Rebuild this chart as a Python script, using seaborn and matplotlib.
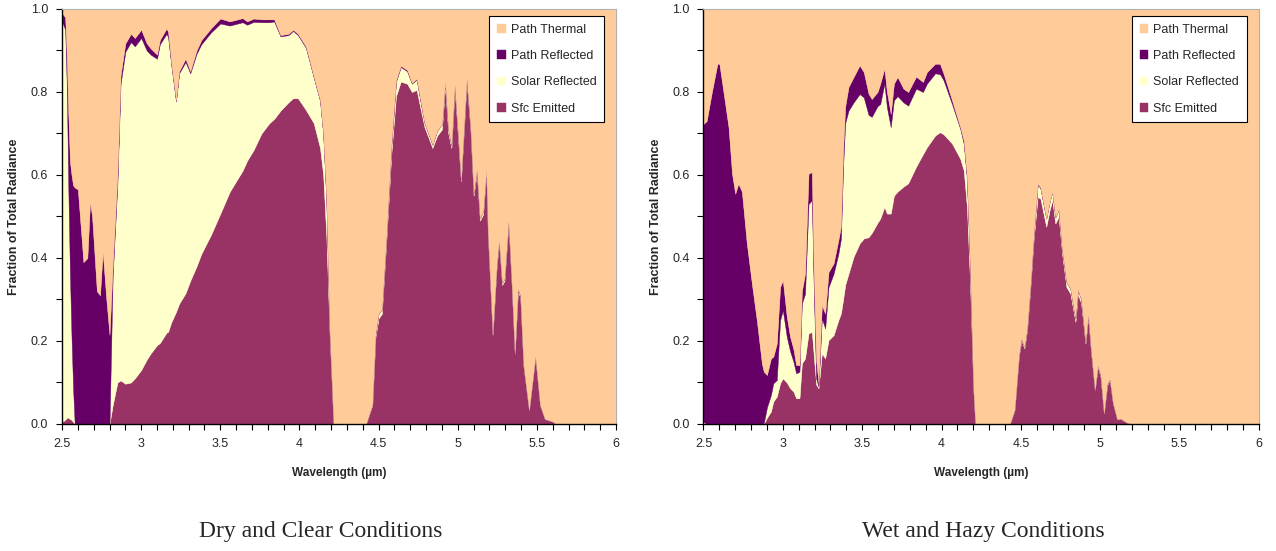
import matplotlib
matplotlib.use("Agg")
import matplotlib.pyplot as plt
import seaborn as sns
from matplotlib.ticker import MultipleLocator, FixedLocator

sns.set_theme(style="ticks")
plt.rcParams['font.family'] = ['Liberation Sans', 'DejaVu Sans']

# series names and colours (legend lists them top-down)
series_names = ['Sfc Emitted', 'Solar Reflected', 'Path Reflected', 'Path Thermal']
series_colors = ['#993366', '#FFFFCC', '#660066', '#FFCC99']

x_ticks = [2.5, 3, 3.5, 4, 4.5, 5, 5.5, 6]
x_tick_labels = ['2.5', '3', '3.5', '4', '4.5', '5', '5.5', '6']
y_ticks = [0.0, 0.2, 0.4, 0.6, 0.8, 1.0]
y_tick_labels = ['0.0', '0.2', '0.4', '0.6', '0.8', '1.0']

# ---- Dry and Clear Conditions ----
wl_dry = [2.50, 2.52, 2.53, 2.54, 2.55, 2.56, 2.57, 2.58, 2.60, 2.635,
          2.66, 2.677, 2.69, 2.72, 2.74, 2.757, 2.78, 2.80, 2.82, 2.85,
          2.87, 2.90, 2.935, 2.96, 3.00, 3.035, 3.06, 3.10, 3.118, 3.16,
          3.17, 3.19, 3.22, 3.24, 3.28, 3.31, 3.35, 3.38, 3.44, 3.50,
          3.56, 3.64, 3.67, 3.71, 3.76, 3.81, 3.84, 3.88, 3.93, 3.96,
          3.99, 4.04, 4.09, 4.13, 4.15, 4.17, 4.19, 4.215, 4.42, 4.46,
          4.48, 4.50, 4.52, 4.55, 4.58, 4.61, 4.64, 4.68, 4.71, 4.74,
          4.77, 4.79, 4.84, 4.87, 4.90, 4.92, 4.94, 4.96, 4.98, 5.00,
          5.02, 5.056, 5.08, 5.10, 5.12, 5.14, 5.16, 5.18, 5.19, 5.22,
          5.245, 5.26, 5.28, 5.295, 5.32, 5.34, 5.36, 5.38, 5.395, 5.415,
          5.45, 5.49, 5.52, 5.55, 5.60, 5.62, 6.00]
sfc_dry = [0.005, 0.010, 0.015, 0.015, 0.012, 0.010, 0.005, 0, 0, 0,
           0, 0, 0, 0, 0, 0, 0, 0, 0.045, 0.10,
           0.105, 0.097, 0.10, 0.11, 0.13, 0.155, 0.17, 0.19, 0.195, 0.22,
           0.222, 0.245, 0.27, 0.29, 0.315, 0.345, 0.38, 0.41, 0.455, 0.507,
           0.56, 0.61, 0.635, 0.66, 0.70, 0.725, 0.735, 0.755, 0.775, 0.785,
           0.785, 0.757, 0.725, 0.665, 0.60, 0.45, 0.22, 0, 0, 0.045,
           0.21, 0.255, 0.265, 0.45, 0.65, 0.79, 0.825, 0.82, 0.80, 0.805,
           0.75, 0.715, 0.665, 0.695, 0.71, 0.815, 0.70, 0.665, 0.81, 0.70,
           0.585, 0.825, 0.71, 0.55, 0.607, 0.49, 0.505, 0.608, 0.46, 0.215,
           0.375, 0.44, 0.335, 0.345, 0.485, 0.34, 0.17, 0.32, 0.305, 0.14,
           0.034, 0.162, 0.045, 0.012, 0.006, 0, 0]
solar_dry = [0.965, 0.94, 0.80, 0.55, 0.35, 0.20, 0.08, 0, 0, 0,
             0, 0, 0, 0, 0, 0, 0, 0, 0.31, 0.48,
             0.715, 0.80, 0.82, 0.80, 0.80, 0.745, 0.72, 0.69, 0.72, 0.72,
             0.71, 0.62, 0.507, 0.555, 0.557, 0.50, 0.512, 0.505, 0.488, 0.458,
             0.40, 0.358, 0.327, 0.309, 0.268, 0.243, 0.235, 0.179, 0.162, 0.162,
             0.152, 0.15, 0.11, 0.113, 0.098, 0.088, 0.01, 0, 0, 0.002,
             0.008, 0.012, 0.01, 0.012, 0.02, 0.035, 0.035, 0.03, 0.02, 0.025,
             0.015, 0.01, 0.008, 0.012, 0.012, 0.01, 0.01, 0.006, 0.008, 0.008,
             0.005, 0.008, 0.006, 0.006, 0.006, 0.005, 0.008, 0.005, 0.004, 0.003,
             0.005, 0.004, 0.005, 0.006, 0.005, 0.003, 0.002, 0.006, 0.005, 0.002,
             0, 0.001, 0, 0, 0, 0, 0]
pathref_dry = [0.02, 0.03, 0.07, 0.18, 0.27, 0.39, 0.49, 0.57, 0.565, 0.39,
               0.40, 0.535, 0.50, 0.32, 0.31, 0.415, 0.30, 0.215, 0.025, 0.02,
               0.02, 0.02, 0.02, 0.02, 0.02, 0.017, 0.015, 0.01, 0.01, 0.013,
               0.013, 0.005, 0.003, 0.005, 0.008, 0.005, 0.008, 0.01, 0.01, 0.012,
               0.01, 0.01, 0.008, 0.008, 0.007, 0.007, 0.005, 0.003, 0.003, 0.003,
               0.003, 0.003, 0.002, 0.002, 0.002, 0.002, 0, 0, 0, 0,
               0, 0, 0, 0, 0.002, 0.003, 0.003, 0.003, 0.002, 0.002,
               0.002, 0, 0, 0, 0, 0, 0, 0, 0, 0,
               0, 0, 0, 0, 0, 0, 0, 0, 0, 0,
               0, 0, 0, 0, 0, 0, 0, 0, 0, 0,
               0, 0, 0, 0, 0, 0, 0]
paththerm_dry = [0.01, 0.02, 0.115, 0.255, 0.368, 0.40, 0.425, 0.43, 0.435, 0.61,
                 0.60, 0.465, 0.50, 0.68, 0.69, 0.585, 0.70, 0.785, 0.62, 0.40,
                 0.16, 0.083, 0.06, 0.07, 0.05, 0.083, 0.095, 0.11, 0.075, 0.047,
                 0.055, 0.13, 0.22, 0.15, 0.12, 0.15, 0.10, 0.075, 0.047, 0.023,
                 0.03, 0.022, 0.03, 0.023, 0.025, 0.025, 0.025, 0.063, 0.06, 0.05,
                 0.06, 0.09, 0.163, 0.22, 0.30, 0.46, 0.77, 1.0, 1.0, 0.953,
                 0.782, 0.733, 0.725, 0.538, 0.328, 0.172, 0.137, 0.147, 0.178, 0.168,
                 0.233, 0.275, 0.327, 0.293, 0.278, 0.175, 0.29, 0.329, 0.182, 0.292,
                 0.41, 0.167, 0.284, 0.444, 0.387, 0.505, 0.487, 0.387, 0.536, 0.782,
                 0.62, 0.556, 0.66, 0.649, 0.51, 0.657, 0.828, 0.674, 0.69, 0.858,
                 0.966, 0.837, 0.955, 0.988, 0.994, 1.0, 1.0]

# ---- Wet and Hazy Conditions ----
wl_wet = [2.50, 2.52, 2.553, 2.588, 2.60, 2.626, 2.658, 2.68, 2.70, 2.72,
          2.742, 2.773, 2.805, 2.836, 2.868, 2.88, 2.90, 2.925, 2.94, 2.962,
          2.983, 3.00, 3.025, 3.046, 3.067, 3.084, 3.105, 3.12, 3.14, 3.162,
          3.183, 3.194, 3.21, 3.225, 3.246, 3.267, 3.288, 3.32, 3.35, 3.366,
          3.38, 3.393, 3.414, 3.446, 3.484, 3.51, 3.54, 3.56, 3.597, 3.614,
          3.64, 3.656, 3.68, 3.70, 3.723, 3.76, 3.79, 3.84, 3.883, 3.908,
          3.96, 3.99, 4.013, 4.066, 4.118, 4.14, 4.16, 4.18, 4.20, 4.213,
          4.43, 4.46, 4.487, 4.503, 4.522, 4.539, 4.56, 4.58, 4.606, 4.623,
          4.66, 4.681, 4.698, 4.717, 4.738, 4.76, 4.787, 4.812, 4.844, 4.859,
          4.88, 4.907, 4.924, 4.943, 4.966, 4.985, 5.002, 5.023, 5.044, 5.06,
          5.08, 5.107, 5.128, 5.17, 5.20, 6.00]
sfc_wet = [0, 0, 0, 0, 0, 0, 0, 0, 0, 0,
           0, 0, 0, 0, 0, 0, 0.015, 0.03, 0.054, 0.066,
           0.098, 0.11, 0.10, 0.086, 0.078, 0.062, 0.062, 0.146, 0.158, 0.218,
           0.222, 0.17, 0.095, 0.086, 0.17, 0.158, 0.202, 0.214, 0.25, 0.266,
           0.30, 0.335, 0.362, 0.403, 0.435, 0.447, 0.45, 0.46, 0.485, 0.495,
           0.523, 0.507, 0.507, 0.55, 0.56, 0.572, 0.58, 0.62, 0.65, 0.667,
           0.695, 0.703, 0.698, 0.676, 0.639, 0.611, 0.523, 0.338, 0.09, 0,
           0, 0.034, 0.162, 0.202, 0.182, 0.226, 0.33, 0.443, 0.547, 0.543,
           0.475, 0.515, 0.539, 0.483, 0.499, 0.41, 0.33, 0.314, 0.246, 0.314,
           0.29, 0.194, 0.258, 0.17, 0.082, 0.138, 0.114, 0.026, 0.094, 0.106,
           0.05, 0.011, 0.013, 0.003, 0, 0]
solar_wet = [0.005, 0, 0, 0, 0, 0, 0, 0, 0, 0,
             0, 0, 0, 0, 0, 0.002, 0.025, 0.04, 0.044, 0.04,
             0.152, 0.164, 0.11, 0.089, 0.072, 0.06, 0.064, 0.144, 0.156, 0.312,
             0.317, 0.168, 0.015, 0.004, 0.084, 0.072, 0.128, 0.148, 0.16, 0.18,
             0.32, 0.39, 0.393, 0.372, 0.36, 0.34, 0.295, 0.28, 0.281, 0.276,
             0.297, 0.256, 0.208, 0.23, 0.23, 0.203, 0.187, 0.188, 0.15, 0.153,
             0.15, 0.14, 0.13, 0.095, 0.072, 0.064, 0.068, 0.038, 0, 0,
             0, 0, 0.003, 0.004, 0.004, 0.005, 0.006, 0.01, 0.03, 0.025,
             0.02, 0.02, 0.02, 0.015, 0.018, 0.01, 0.012, 0.012, 0.008, 0.01,
             0.01, 0.004, 0.006, 0.004, 0.002, 0.004, 0.003, 0.001, 0.003, 0.002,
             0.001, 0, 0, 0, 0, 0]
pathref_wet = [0.718, 0.73, 0.80, 0.868, 0.868, 0.80, 0.715, 0.603, 0.555, 0.579,
               0.56, 0.435, 0.338, 0.25, 0.146, 0.124, 0.078, 0.088, 0.064, 0.088,
               0.08, 0.072, 0.048, 0.035, 0.03, 0.02, 0.016, 0.03, 0.048, 0.073,
               0.068, 0.04, 0.044, 0.008, 0.032, 0.036, 0.036, 0.025, 0.033, 0.03,
               0.04, 0.04, 0.057, 0.061, 0.069, 0.061, 0.051, 0.043, 0.034, 0.049,
               0.036, 0.037, 0.032, 0.04, 0.046, 0.033, 0.033, 0.029, 0.024, 0.028,
               0.023, 0.025, 0.016, 0.009, 0.004, 0.008, 0.004, 0.002, 0, 0,
               0, 0, 0, 0, 0, 0, 0, 0, 0.002, 0.002,
               0, 0, 0, 0, 0, 0, 0, 0, 0, 0,
               0, 0, 0, 0, 0, 0, 0, 0, 0, 0,
               0, 0, 0, 0, 0, 0]
paththerm_wet = [0.277, 0.27, 0.20, 0.132, 0.132, 0.20, 0.285, 0.397, 0.445, 0.421,
                 0.44, 0.565, 0.662, 0.75, 0.854, 0.874, 0.882, 0.842, 0.838, 0.806,
                 0.67, 0.654, 0.742, 0.79, 0.82, 0.858, 0.858, 0.68, 0.638, 0.397,
                 0.393, 0.622, 0.846, 0.902, 0.714, 0.734, 0.634, 0.613, 0.557, 0.524,
                 0.34, 0.235, 0.188, 0.164, 0.136, 0.152, 0.204, 0.217, 0.20, 0.18,
                 0.144, 0.20, 0.253, 0.18, 0.164, 0.192, 0.20, 0.163, 0.176, 0.152,
                 0.132, 0.132, 0.156, 0.22, 0.285, 0.317, 0.405, 0.622, 0.91, 1.0,
                 1.0, 0.966, 0.835, 0.794, 0.814, 0.769, 0.664, 0.547, 0.421, 0.43,
                 0.505, 0.465, 0.441, 0.502, 0.483, 0.58, 0.658, 0.674, 0.746, 0.676,
                 0.70, 0.802, 0.736, 0.826, 0.916, 0.858, 0.883, 0.973, 0.903, 0.892,
                 0.949, 0.989, 0.987, 0.997, 1.0, 1.0]


def draw_panel(ax, wl, sfc, solar, pathref, paththerm):
    ax.stackplot(wl, sfc, solar, pathref, paththerm,
                 colors=series_colors, labels=series_names,
                 linewidth=0.3, edgecolor='face')
    ax.set_xlim(2.5, 6)
    ax.set_ylim(0, 1)

    ax.xaxis.set_major_locator(FixedLocator(x_ticks))
    ax.set_xticklabels(x_tick_labels)
    ax.xaxis.set_minor_locator(MultipleLocator(0.1))
    ax.yaxis.set_major_locator(FixedLocator(y_ticks))
    ax.set_yticklabels(y_tick_labels)
    ax.yaxis.set_minor_locator(MultipleLocator(0.1))
    ax.tick_params(which='both', direction='out', length=4, width=0.8,
                   color='black', labelsize=9, pad=6)

    for side in ['left', 'bottom']:
        ax.spines[side].set_color('black')
        ax.spines[side].set_linewidth(1.0)
    for side in ['top', 'right']:
        ax.spines[side].set_color('#b0b0b0')
        ax.spines[side].set_linewidth(0.8)

    ax.set_ylabel('Fraction of Total Radiance', fontsize=9, fontweight='bold')
    ax.yaxis.set_label_coords(-0.075, 0.5)
    ax.set_xlabel('Wavelength (\u00b5m)', fontsize=8.5, fontweight='bold')
    ax.xaxis.set_label_coords(0.5, -0.104)

    handles, labels = ax.get_legend_handles_labels()
    leg = ax.legend(handles[::-1], labels[::-1], loc='upper right',
                    bbox_to_anchor=(0.978, 0.983), borderaxespad=0,
                    fontsize=9, frameon=True, fancybox=False,
                    edgecolor='black', framealpha=1, facecolor='white',
                    handlelength=0.7, handleheight=0.7, handletextpad=0.4,
                    labelspacing=1.15, borderpad=0.6)
    leg.get_frame().set_linewidth(0.8)


fig = plt.figure(figsize=(12.76, 5.51), dpi=100)
ax_dry = fig.add_axes([0.0486, 0.2305, 0.4342, 0.7532])
ax_wet = fig.add_axes([0.5513, 0.2305, 0.4353, 0.7532])

draw_panel(ax_dry, wl_dry, sfc_dry, solar_dry, pathref_dry, paththerm_dry)
draw_panel(ax_wet, wl_wet, sfc_wet, solar_wet, pathref_wet, paththerm_wet)

fig.text(321 / 1276, 1 - 532 / 551, 'Dry and Clear Conditions',
         family=['Liberation Serif', 'DejaVu Serif'], fontsize=17,
         ha='center', va='center')
fig.text(983 / 1276, 1 - 532 / 551, 'Wet and Hazy Conditions',
         family=['Liberation Serif', 'DejaVu Serif'], fontsize=17,
         ha='center', va='center')

fig.savefig('out.png', dpi=100, facecolor='white')
